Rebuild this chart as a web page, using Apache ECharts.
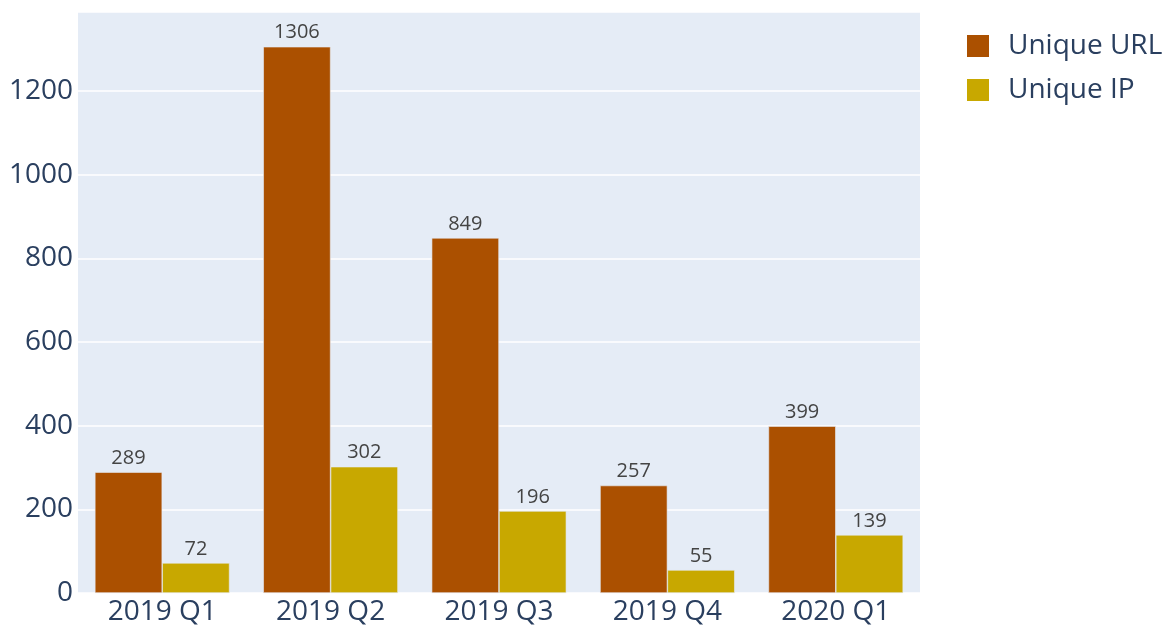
<!DOCTYPE html>
<html>
<head>
<meta charset="utf-8">
<script src="https://cdn.jsdelivr.net/npm/echarts@6/dist/echarts.min.js"></script>
<style>
html,body{margin:0;padding:0;background:#fff;}
#chart{width:1172px;height:629px;}
</style>
</head>
<body>
<div id="chart"></div>
<script>
const categories = ['2019 Q1', '2019 Q2', '2019 Q3', '2019 Q4', '2020 Q1'];
const uniqueURL = [289, 1306, 849, 257, 399];
const uniqueIP = [72, 302, 196, 55, 139];
const seriesNames = ['Unique URL', 'Unique IP'];

const chart = echarts.init(document.getElementById('chart'));
const font = '"Open Sans", "Noto Sans", sans-serif';
const labelStyle = {show: true, position: 'top', distance: 4, fontFamily: font, fontSize: 20, color: '#444'};
chart.setOption({
  animation: false,
  textStyle: {fontFamily: font},
  grid: {left: 78, right: 252, top: 12, bottom: 36, show: true, backgroundColor: '#E5ECF6', borderWidth: 0},
  legend: {
    orient: 'vertical', left: 962, top: 27,
    itemWidth: 22, itemHeight: 22, itemGap: 16,
    icon: 'rect',
    itemStyle: {borderWidth: 0},
    textStyle: {fontFamily: font, fontSize: 28, color: '#2a3f5f', padding: [0, 0, 0, 14]},
    data: seriesNames
  },
  xAxis: {
    type: 'category', data: categories,
    axisLine: {show: false}, axisTick: {show: false},
    axisLabel: {fontFamily: font, fontSize: 28, color: '#2a3f5f', margin: 5}
  },
  yAxis: {
    type: 'value', min: 0, max: 1389, interval: 200,
    axisLine: {show: false}, axisTick: {show: false},
    axisLabel: {fontFamily: font, fontSize: 28, color: '#2a3f5f', margin: 5, showMaxLabel: false,
      formatter: function (v) { return String(v); }},
    splitLine: {lineStyle: {color: '#ffffff', width: 1.5}}
  },
  series: [
    {name: seriesNames[0], type: 'bar', data: uniqueURL, barGap: '0%', barCategoryGap: '20%',
     itemStyle: {color: '#AB5000', borderColor: '#E5ECF6', borderWidth: 0.6}, label: labelStyle},
    {name: seriesNames[1], type: 'bar', data: uniqueIP,
     itemStyle: {color: '#C8A800', borderColor: '#E5ECF6', borderWidth: 0.6}, label: labelStyle}
  ]
});
</script>
</body>
</html>
